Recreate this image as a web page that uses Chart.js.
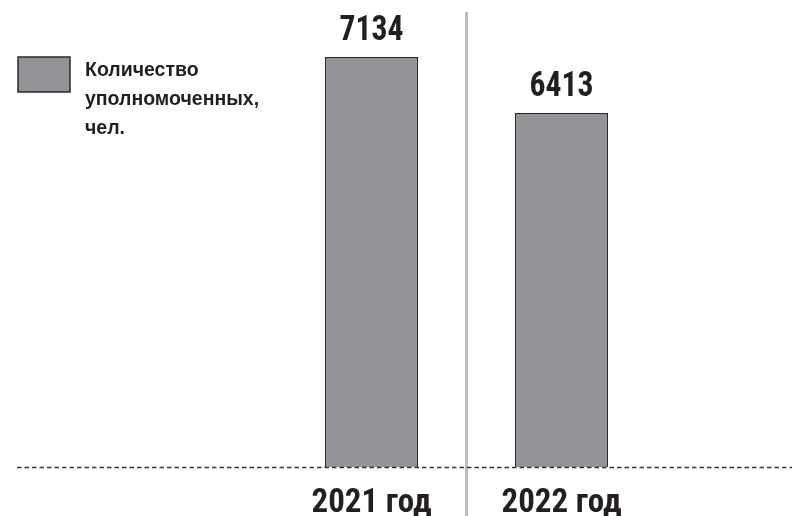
<!DOCTYPE html>
<html>
<head>
<meta charset="utf-8">
<script src="https://cdn.jsdelivr.net/npm/chart.js@4"></script>
<style>
html,body{margin:0;padding:0;background:#fff;}
#wrap{width:792px;height:516px;position:relative;}
</style>
</head>
<body>
<div id="wrap"><canvas id="c" width="792" height="516"></canvas></div>
<script>
// ---- data ----
const categories = ['2021 год', '2022 год'];
const seriesName = 'Количество уполномоченных, чел.';
const legendLines = ['Количество', 'уполномоченных,', 'чел.'];
const values = [7134, 6413];
const valueLabels = ['7134', '6413'];

// ---- styles ----
const BAR_FILL = '#949498';
const BAR_EDGE = '#2a2a2a';
const INK = '#231f20';

function hasFont(name){
  const ctx = document.createElement('canvas').getContext('2d');
  const s = '2021 годWwil7134';
  ctx.font = 'bold 40px monospace';
  const a = ctx.measureText(s).width;
  ctx.font = 'bold 40px "' + name + '", monospace';
  const b = ctx.measureText(s).width;
  return Math.abs(a - b) > 0.5;
}
const condCandidates = ['Liberation Sans Narrow', 'Roboto Condensed', 'DejaVu Sans Condensed', 'Liberation Sans'];
let condFont = 'Liberation Sans';
for (const f of condCandidates){ if (hasFont(f)) { condFont = f; break; } }

// draw text squeezed horizontally so that reference string matches target width
function condensedText(ctx, text, cx, baseY, size, scaleX){
  ctx.save();
  ctx.font = 'bold ' + size + 'px "' + condFont + '", "Liberation Sans", sans-serif';
  ctx.fillStyle = INK;
  ctx.textAlign = 'center';
  ctx.textBaseline = 'alphabetic';
  ctx.translate(cx, baseY);
  ctx.scale(scaleX, 1);
  ctx.fillText(text, 0, 0);
  ctx.restore();
}
function scaleFor(ctx, ref, size, target){
  ctx.save();
  ctx.font = 'bold ' + size + 'px "' + condFont + '", "Liberation Sans", sans-serif';
  const w = ctx.measureText(ref).width;
  ctx.restore();
  return Math.min(1, target / w);
}

const decor = {
  id: 'decor',
  beforeDatasetsDraw(chart){
    const {ctx} = chart;
    const x = chart.scales.x;
    // vertical divider between categories
    const mid = (x.getPixelForValue(0) + x.getPixelForValue(1)) / 2;
    ctx.save();
    ctx.strokeStyle = '#bcbcbe';
    ctx.lineWidth = 3;
    ctx.beginPath();
    ctx.moveTo(mid, 12);
    ctx.lineTo(mid, chart.height);
    ctx.stroke();
    ctx.restore();
  },
  afterDatasetsDraw(chart){
    const {ctx} = chart;
    const x = chart.scales.x, y = chart.scales.y;
    const base = y.getPixelForValue(y.min);
    // dashed baseline
    ctx.save();
    ctx.strokeStyle = '#333';
    ctx.lineWidth = 1.3;
    ctx.setLineDash([4.5, 3]);
    ctx.beginPath();
    ctx.moveTo(17, base + 0.5);
    ctx.lineTo(chart.width, base + 0.5);
    ctx.stroke();
    ctx.restore();

    // value labels
    const sNum = scaleFor(ctx, '7134', 35, 64);
    const meta = chart.getDatasetMeta(0);
    meta.data.forEach((bar, i) => {
      condensedText(ctx, valueLabels[i], bar.x, bar.y - 17, 35, sNum);
    });
    // category labels
    const sCat = scaleFor(ctx, '2021 год', 34, 120);
    categories.forEach((c, i) => {
      condensedText(ctx, c, x.getPixelForValue(i), 512, 34, sCat);
    });

    // legend
    ctx.save();
    ctx.fillStyle = BAR_FILL;
    ctx.fillRect(18, 57, 52, 35);
    ctx.strokeStyle = BAR_EDGE;
    ctx.lineWidth = 1.5;
    ctx.strokeRect(18, 57, 52, 35);
    ctx.fillStyle = INK;
    ctx.font = 'bold 19.5px "Liberation Sans", Arial, sans-serif';
    ctx.textAlign = 'left';
    ctx.textBaseline = 'alphabetic';
    legendLines.forEach((t, i) => ctx.fillText(t, 85, 76 + i * 29));
    ctx.restore();
  }
};

new Chart(document.getElementById('c'), {
  type: 'bar',
  data: {
    labels: categories,
    datasets: [{
      label: seriesName,
      data: values,
      backgroundColor: BAR_FILL,
      borderColor: BAR_EDGE,
      borderWidth: 1.5,
      borderSkipped: false,
      categoryPercentage: 1,
      barPercentage: 0.49
    }]
  },
  options: {
    responsive: false,
    animation: false,
    devicePixelRatio: 1,
    layout: { padding: { left: 276.5, right: 135.5, top: 0, bottom: 49 } },
    plugins: { legend: { display: false }, tooltip: { enabled: false } },
    scales: {
      x: { display: false, grid: { display: false } },
      y: { display: false, min: 1855, max: 7868, grid: { display: false } }
    }
  },
  plugins: [decor]
});
</script>
</body>
</html>
